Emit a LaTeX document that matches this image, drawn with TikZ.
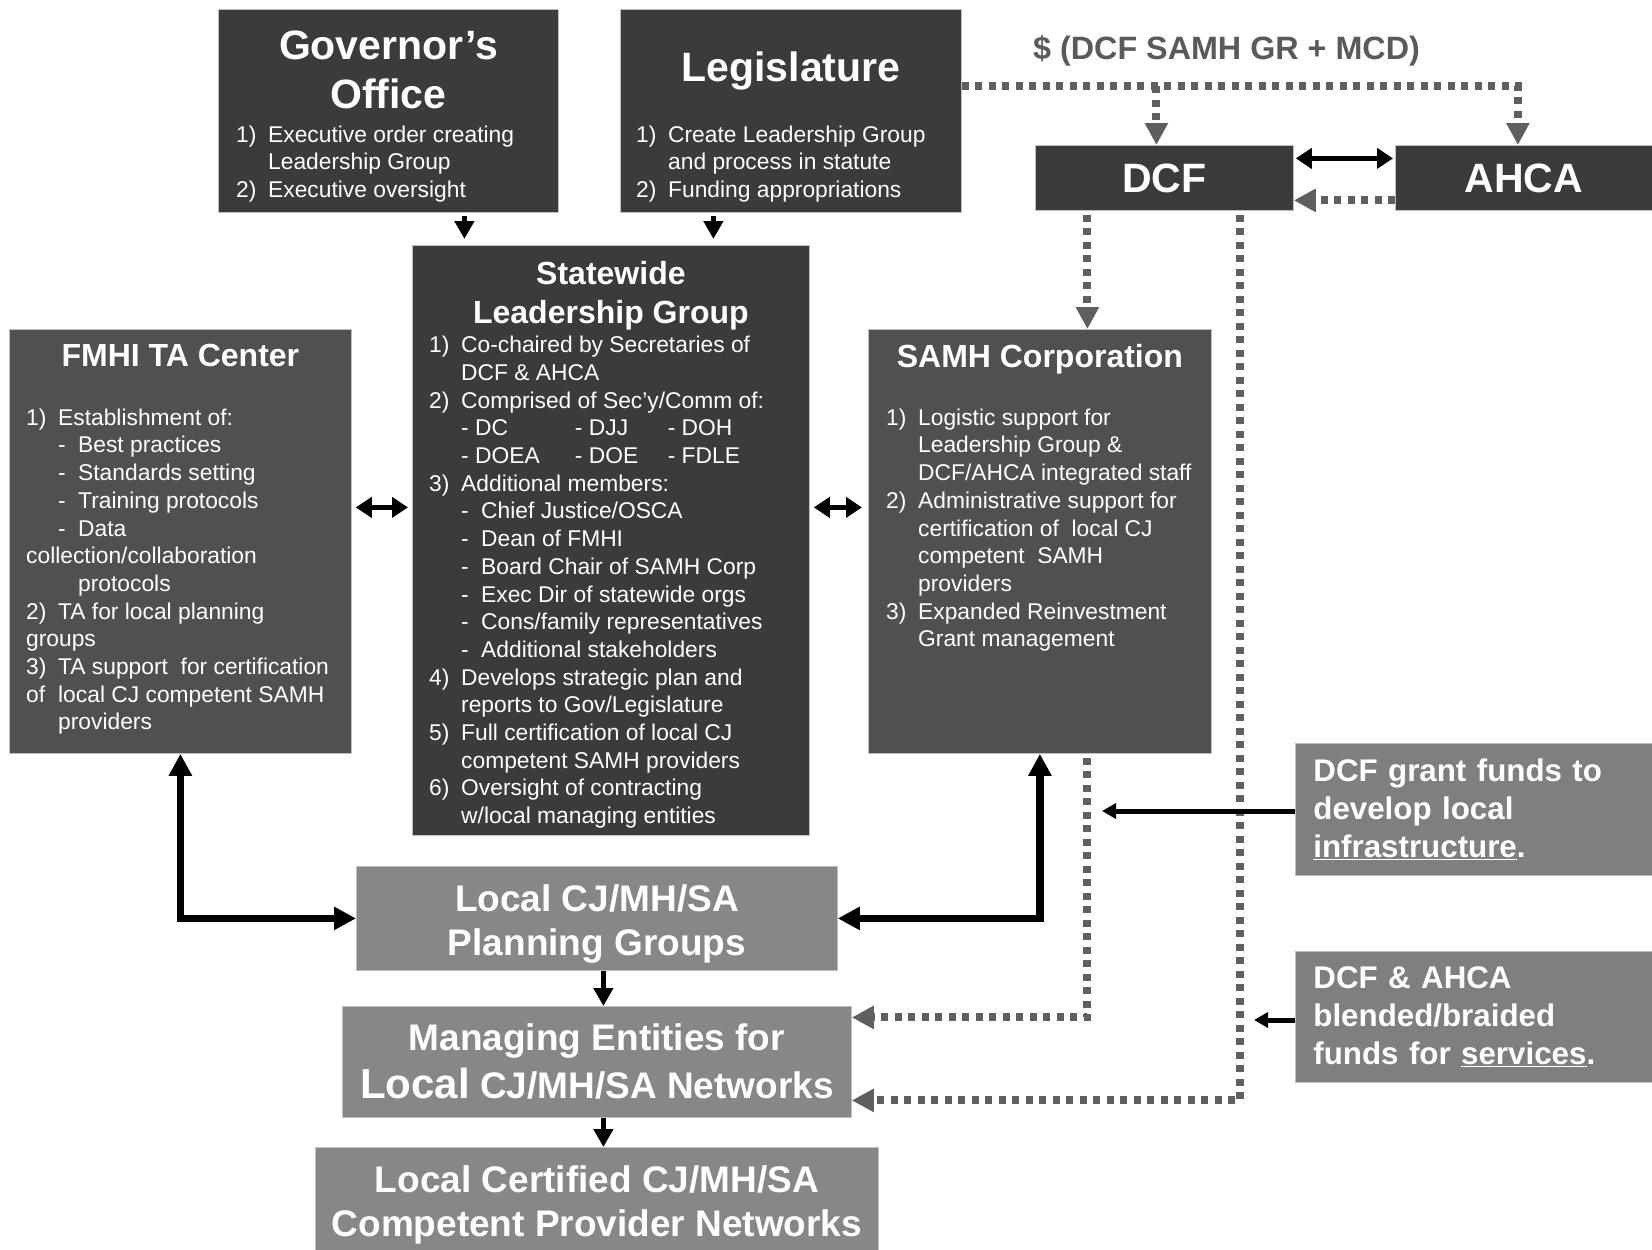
\documentclass[tikz,border=0pt]{standalone}
\usepackage{fontspec}
\setmainfont{Liberation Sans}
\usetikzlibrary{arrows.meta,positioning}
\definecolor{boxdark}{RGB}{59,59,59}
\definecolor{boxmid}{RGB}{80,80,80}
\definecolor{boxlight}{RGB}{135,135,135}
\definecolor{boxfund}{RGB}{127,127,127}
\definecolor{dotgray}{RGB}{95,95,95}
\definecolor{labelgray}{RGB}{90,90,90}
\newcommand{\itemno}[1]{\makebox[32pt][l]{#1}}
\newcommand{\cont}{\hspace*{32pt}}
\newcommand{\subdash}{\hspace*{32pt}\makebox[20pt][l]{-}}
\tikzset{
base/.style={draw=black!25, line width=0.8pt, inner sep=0pt, text=white, anchor=north west},
darkbox/.style={base, fill=boxdark},
midbox/.style={base, fill=boxmid},
agency/.style={darkbox, align=center, font=\fontsize{41}{49}\selectfont\bfseries},
lightbox/.style={base, fill=boxlight, align=center, font=\fontsize{37}{44}\selectfont\bfseries},
fundbox/.style={base, fill=boxfund, align=left, inner xsep=18pt, text width=321pt, font=\fontsize{31.3}{38}\selectfont\bfseries},
bigtitle/.style={inner sep=0pt, text=white, align=center, font=\fontsize{41}{49.5}\selectfont\bfseries},
titletext/.style={inner sep=0pt, text=white, align=center, font=\fontsize{32}{39}\selectfont\bfseries},
bodytext/.style={inner sep=0pt, text=white, align=left, font=\fontsize{22.8}{27.7}\selectfont},
moneytext/.style={inner sep=0pt, text=labelgray, font=\fontsize{32.3}{38}\selectfont\bfseries},
arrow/.style={-{Triangle[length=18pt,width=19pt]}, line width=4.5pt},
feed/.style={-{Triangle[length=14pt,width=15pt]}, line width=5pt},
biarrow/.style={{Triangle[length=16pt,width=20pt]}-{Triangle[length=16pt,width=20pt]}, line width=5pt},
elbow/.style={{Triangle[length=22pt,width=22pt]}-{Triangle[length=22pt,width=22pt]}, line width=7.5pt},
dotarrow/.style={-{Triangle[length=22pt,width=22pt]}, draw=dotgray, line width=8pt, dash pattern=on 7pt off 6.5pt}
}
\begin{document}
\begin{tikzpicture}[x=1pt, y=-1pt]
\useasboundingbox (0,0) rectangle (1652,1250);
\node[darkbox, minimum width=340pt, minimum height=203pt] (gov) at (218,9) {};
\node[darkbox, minimum width=341pt, minimum height=203pt] (leg) at (620,9) {};
\node[agency, minimum width=258pt, minimum height=65pt] (dcf) at (1035,145) {DCF};
\node[agency, minimum width=257pt, minimum height=65pt] (ahca) at (1395,145) {AHCA};
\node[darkbox, minimum width=397pt, minimum height=590pt] (slg) at (412,245) {};
\node[midbox, minimum width=342pt, minimum height=424pt] (fmhi) at (9,329) {};
\node[midbox, minimum width=343pt, minimum height=424pt] (samh) at (868,329) {};
\node[fundbox, minimum height=132pt] (grant) at (1295,743) {DCF grant funds to\\develop local\\\underline{infrastructure}.};
\node[fundbox, minimum height=131pt] (blend) at (1295,951) {DCF \& AHCA\\blended/braided\\funds for \underline{services}.};
\node[lightbox, minimum width=481pt, minimum height=104pt] (plan) at (356,866) {\rule{0pt}{38pt}Local CJ/MH/SA\\Planning Groups};
\node[lightbox, minimum width=509pt, minimum height=111pt] (manage) at (342,1006) {Managing Entities for\\[4pt]{\fontsize{42}{44}\selectfont Local} CJ/MH/SA Networks};
\node[lightbox, minimum width=563pt, minimum height=104pt] (cert) at (315,1147) {\rule{0pt}{38pt}Local Certified CJ/MH/SA\\Competent Provider Networks};
\node[moneytext, anchor=west] (money) at (1033,51) {\$ (DCF SAMH GR + MCD)};
\node[bigtitle, below=21.5pt of gov.north] (govtitle) {Governor’s\\Office};
\node[bodytext, below right=116.5pt and 18pt of gov.north west] (govbody) {\itemno{1)}Executive order creating\\\cont Leadership Group\\\itemno{2)}Executive oversight};
\node[bigtitle, below=42.5pt of leg.north] (legtitle) {Legislature};
\node[bodytext, below right=116.5pt and 16pt of leg.north west] (legbody) {\itemno{1)}Create Leadership Group\\\cont and process in statute\\\itemno{2)}Funding appropriations};
\node[titletext, below=16pt of slg.north] (slgtitle) {Statewide\\Leadership Group};
\node[bodytext, below right=91pt and 17pt of slg.north west] (slgbody) {\itemno{1)}Co-chaired by Secretaries of\\\cont DCF \& AHCA\\\itemno{2)}Comprised of Sec’y/Comm of:\\\cont\makebox[113.8pt][l]{- DC}\makebox[92.8pt][l]{- DJJ}- DOH\\\cont\makebox[113.8pt][l]{- DOEA}\makebox[92.8pt][l]{- DOE}- FDLE\\\itemno{3)}Additional members:\\\subdash Chief Justice/OSCA\\\subdash Dean of FMHI\\\subdash Board Chair of SAMH Corp\\\subdash Exec Dir of statewide orgs\\\subdash Cons/family representatives\\\subdash Additional stakeholders\\\itemno{4)}Develops strategic plan and\\\cont reports to Gov/Legislature\\\itemno{5)}Full certification of local CJ\\\cont competent SAMH providers\\\itemno{6)}Oversight of contracting\\\cont w/local managing entities};
\node[titletext, below=15pt of fmhi.north] (fmhititle) {FMHI TA Center};
\node[bodytext, below right=79.5pt and 17pt of fmhi.north west] (fmhibody) {\itemno{1)}Establishment of:\\\subdash Best practices\\\subdash Standards setting\\\subdash Training protocols\\\subdash Data\\collection/collaboration\\\hspace*{52pt}protocols\\\itemno{2)}TA for local planning\\groups\\\itemno{3)}TA support\ \ for certification\\\itemno{of}local CJ competent SAMH\\\cont providers};
\node[titletext, below=15pt of samh.north] (samhtitle) {SAMH Corporation};
\node[bodytext, below right=79.5pt and 18pt of samh.north west] (samhbody) {\itemno{1)}Logistic support for\\\cont Leadership Group \&\\\cont DCF/AHCA integrated staff\\\itemno{2)}Administrative support for\\\cont certification of\ \ local CJ\\\cont competent\ \ SAMH\\\cont providers\\\itemno{3)}Expanded Reinvestment\\\cont Grant management};
\coordinate (govout) at ([xshift=76pt]gov.south);
\coordinate (legout) at ([xshift=-77.5pt]leg.south);
\coordinate (fund) at ([yshift=24.5pt]leg.east);
\coordinate (dcfin) at ([xshift=-8pt]dcf.north);
\coordinate (fork) at (dcfin |- fund);
\coordinate (dcfsamh) at ([xshift=-77pt]dcf.south);
\coordinate (sideout) at ([yshift=34pt]fmhi.east);
\coordinate (granttip) at (1102,811);
\coordinate (blendtip) at (1254,1020);
\draw[arrow, shorten <=3pt, shorten >=6pt] (govout) -- (govout |- slg.north);
\draw[arrow, shorten <=3pt, shorten >=6pt] (legout) -- (legout |- slg.north);
\draw[arrow] ([xshift=6.5pt]plan.south) -- ([xshift=6.5pt]manage.north);
\draw[arrow] ([xshift=6.5pt]manage.south) -- ([xshift=6.5pt]cert.north);
\draw[biarrow, shorten <=4pt, shorten >=4pt] (sideout) -- (sideout -| slg.west);
\draw[biarrow, shorten <=4pt, shorten >=6pt] (sideout -| slg.east) -- (sideout -| samh.west);
\draw[biarrow, shorten <=2pt, shorten >=2pt] ([yshift=19.5pt]dcf.east) -- ([yshift=19.5pt]ahca.west);
\draw[dotarrow] ([yshift=-22.5pt]ahca.west) -- ([yshift=-22.5pt]dcf.east);
\draw[dotarrow] (fund) -| ([xshift=-6pt]ahca.north);
\draw[dotarrow] (fork) -- (dcfin);
\draw[dotarrow, shorten <=4pt] (dcfsamh) -- (dcfsamh |- samh.north);
\draw[dotarrow, shorten <=4pt] ([xshift=76pt]dcf.south) |- ([yshift=-38.5pt]manage.east);
\draw[dotarrow, shorten <=4pt] ([xshift=47.5pt]samh.south) |- ([yshift=44.5pt]manage.east);
\draw[elbow] (fmhi.south) |- (plan.west);
\draw[elbow] (samh.south) |- (plan.east);
\draw[feed] (grant.west |- granttip) -- (granttip);
\draw[feed] (blend.west |- blendtip) -- (blendtip);
\end{tikzpicture}
\end{document}
